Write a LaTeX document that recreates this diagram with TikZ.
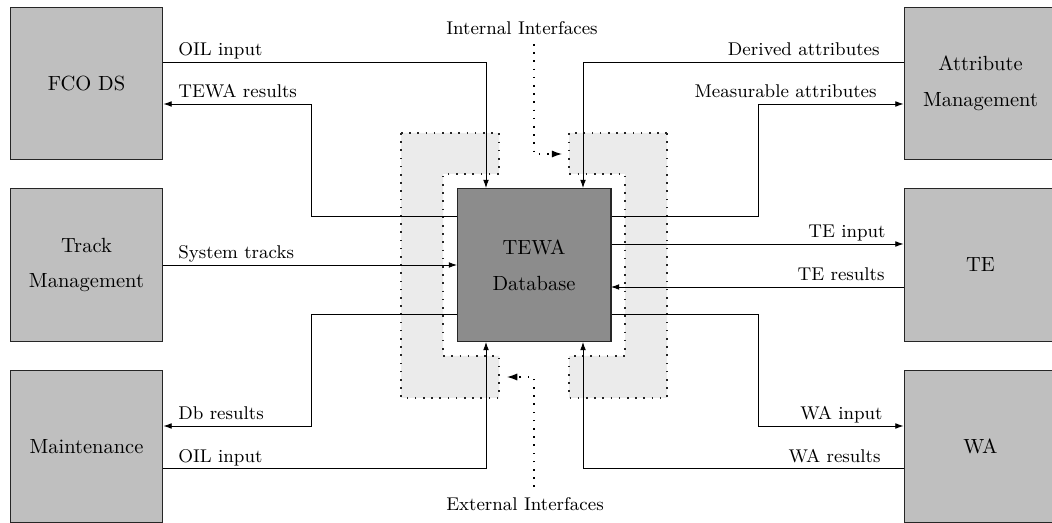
\documentclass[tikz,border=0pt]{standalone}
\usetikzlibrary{arrows.meta}
\begin{document}
\begin{tikzpicture}[x=0.4878pt,y=-0.4878pt,
  blk/.style={draw=black!85, fill=black!25, line width=0.5pt, minimum width=74.6pt, minimum height=74.6pt, inner sep=0pt, align=center, font=\fontsize{10}{17.5}\selectfont},
  core/.style={blk, fill=black!45, minimum width=75.1pt, minimum height=75.1pt},
  conn/.style={line width=0.4pt, -{Latex[length=4pt,width=2.8pt]}},
  lbl/.style={font=\small, inner sep=0pt},
  zone/.style={fill=black!8, draw=black!85, line width=0.6pt, dash pattern=on 0.8pt off 3.2pt},
  hint/.style={line width=0.6pt, dash pattern=on 0.8pt off 3.2pt, -{Latex[length=5pt,width=3.5pt]}}]

\path[use as bounding box, clip] (0,0) rectangle (1052,523);

% interface zones
\path[zone] (401,133) -- (499,133) -- (499,174) -- (443,174) -- (443,356) -- (499,356) -- (499,398) -- (401,398) -- cycle;
\path[zone] (667,133) -- (569,133) -- (569,174) -- (625,174) -- (625,356) -- (569,356) -- (569,398) -- (667,398) -- cycle;

% blocks
\node[blk] (fco) at (86.5,83.5) {FCO DS};
\node[blk] (track) at (86.5,265) {Track\\Management};
\node[blk] (maint) at (86.5,446.5) {Maintenance};
\node[blk] (attr) at (980.5,83.5) {Attribute\\Management};
\node[blk] (te) at (980.5,265) {TE};
\node[blk] (wa) at (980.5,446.5) {WA};

% connectors
\draw[conn] (fco.east |- 0,62) -- (486,62) -- (486,188);
\draw[conn] (457,216) -- (311,216) -- (311,104) -- (fco.east |- 0,104);
\draw[conn] (attr.west |- 0,62) -- (583,62) -- (583,188);
\draw[conn] (611,216) -- (758,216) -- (758,104) -- (attr.west |- 0,104);
\draw[conn] (611,244) -- (te.west |- 0,244);
\draw[conn] (te.west |- 0,287) -- (611,287);
\draw[conn] (track.east |- 0,265) -- (457,265);
\draw[conn] (457,314) -- (311,314) -- (311,426) -- (maint.east |- 0,426);
\draw[conn] (maint.east |- 0,468) -- (486,468) -- (486,342);
\draw[conn] (611,314) -- (758,314) -- (758,426) -- (wa.west |- 0,426);
\draw[conn] (wa.west |- 0,468) -- (583,468) -- (583,342);

% central block
\node[core] (tewa) at (534,265) {TEWA\\Database};

% labels
\node[lbl, anchor=base west] (l1) at (178,56) {OIL input};
\node[lbl, anchor=base west] (l2) at (178,98) {TEWA results};
\node[lbl, anchor=base west] (l3) at (178,259) {System tracks};
\node[lbl, anchor=base west] (l4) at (178,420) {Db results};
\node[lbl, anchor=base west] (l5) at (178,462) {OIL input};
\node[lbl, anchor=base east] (r1) at (880,56) {Derived attributes};
\node[lbl, anchor=base east] (r2) at (877,98) {Measurable attributes};
\node[lbl, anchor=base east] (r3) at (886,238) {TE input};
\node[lbl, anchor=base east] (r4) at (885,281) {TE results};
\node[lbl, anchor=base east] (r5) at (883,420) {WA input};
\node[lbl, anchor=base east] (r6) at (881,462) {WA results};

% interface hints
\node[lbl, anchor=base] (intl) at (522,35) {Internal Interfaces};
\node[lbl, anchor=base] (extl) at (525,510) {External Interfaces};
\coordinate (intend) at (562,154);
\coordinate (extend) at (507,377);
\draw[hint] (534,44) -- (534,154) -- (intend);
\draw[hint] (534,487) -- (534,377) -- (extend);
\end{tikzpicture}
\end{document}
